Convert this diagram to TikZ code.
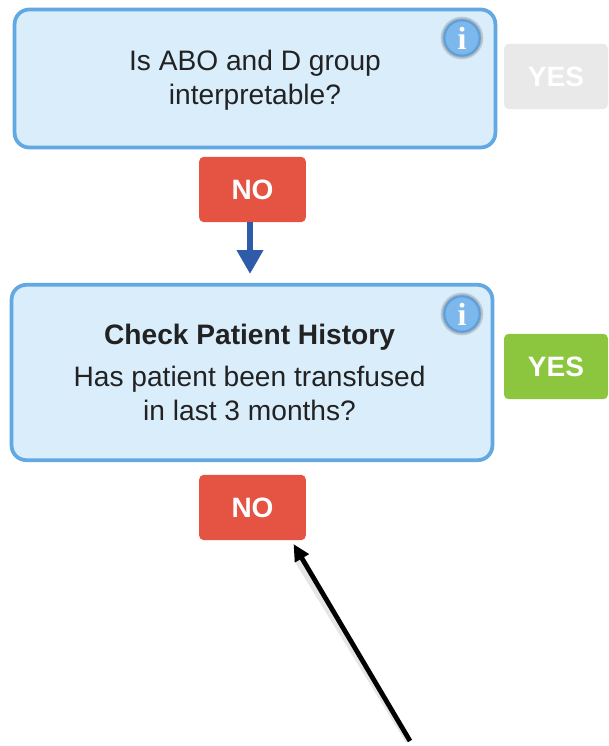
\documentclass[tikz,border=0pt]{standalone}
\usepackage{fontspec}
\setmainfont{Liberation Sans}
\newfontfamily\iconfont{Liberation Serif}
\usetikzlibrary{arrows.meta}
\definecolor{boxfill}{HTML}{D9EDFB}
\definecolor{boxline}{HTML}{62A8E3}
\definecolor{nored}{HTML}{E55343}
\definecolor{yesgreen}{HTML}{8CC63F}
\definecolor{yesgrey}{HTML}{EAE9E9}
\definecolor{flowblue}{HTML}{2F5CA8}
\definecolor{iconfill}{HTML}{7DB8EC}
\definecolor{iconline}{HTML}{5E9FDC}
\definecolor{bodytext}{HTML}{222222}
\tikzset{
  x=0.75pt,y=-0.75pt,
  question/.style={draw=boxline,fill=boxfill,line width=2.8pt,rounded corners=11pt,
    minimum width=360.6pt,align=center,inner sep=0pt,font=\fontsize{21.1pt}{25pt}\selectfont,text=bodytext},
  answer/.style={rounded corners=3.5pt,minimum width=80pt,minimum height=49pt,inner sep=0pt,
    font=\bfseries\fontsize{21pt}{24pt}\selectfont,text=white},
  noanswer/.style={answer,fill=nored},
  yesanswer/.style={answer,fill=yesgreen,minimum width=78pt},
  yesoff/.style={answer,fill=yesgrey,minimum width=78pt},
  infoicon/.style={circle,draw=iconline,fill=iconfill,line width=1.6pt,minimum size=26.5pt,inner sep=0pt,
    text=white,font=\iconfont\bfseries\fontsize{24pt}{24pt}\selectfont},
  iconhalo/.style={circle,fill=black,opacity=0.14,minimum size=#1,inner sep=0pt},
  flowarrow/.style={draw=flowblue,line width=5.2pt,-{Triangle[length=18pt,width=19pt]}},
  noterarrow/.style={draw=black,line width=3.6pt,-{Triangle[length=12.5pt,width=11.5pt]}},
  noterhalo/.style={draw=black,opacity=0.1,line width=4.5pt},
}
\begin{document}
\begin{tikzpicture}
\useasboundingbox (0,0) rectangle (608,746);
\node[question,minimum height=103.5pt] (q1) at (255,78.5) {\rule{0pt}{18pt}Is ABO and D group\\interpretable?};
\node[question,minimum height=131.5pt] (q2) at (252,372.5) {\hspace*{-3.7pt}\textbf{Check Patient History}\\[6.5pt]\hspace*{-3.7pt}Has patient been transfused\\\hspace*{-3.7pt}in last 3 months?};
\node[iconhalo=32pt] at (462,38) {};
\node[iconhalo=29.5pt] at (462,38) {};
\node[infoicon] (i1) at (462,38) {i};
\node[iconhalo=32pt] at (462,314) {};
\node[iconhalo=29.5pt] at (462,314) {};
\node[infoicon] (i2) at (462,314) {i};
\node[noanswer] (no1) at (252.5,189.5) {NO};
\node[noanswer] (no2) at (252.5,507.5) {NO};
\node[yesoff] (yes1) at (556,76.5) {YES};
\node[yesanswer] (yes2) at (556,366.5) {YES};
\coordinate (flowstart) at (250,222);
\coordinate (flowtip) at (250,274);
\coordinate (notertail) at (410,741);
\coordinate (notertip) at (293.5,544);
\coordinate (halotail) at (408.5,741);
\coordinate (halotip) at (296,558);
\draw[flowarrow] (flowstart) -- (flowtip);
\draw[noterhalo] (halotail) -- (halotip);
\draw[noterarrow] (notertail) -- (notertip);
\end{tikzpicture}
\end{document}
